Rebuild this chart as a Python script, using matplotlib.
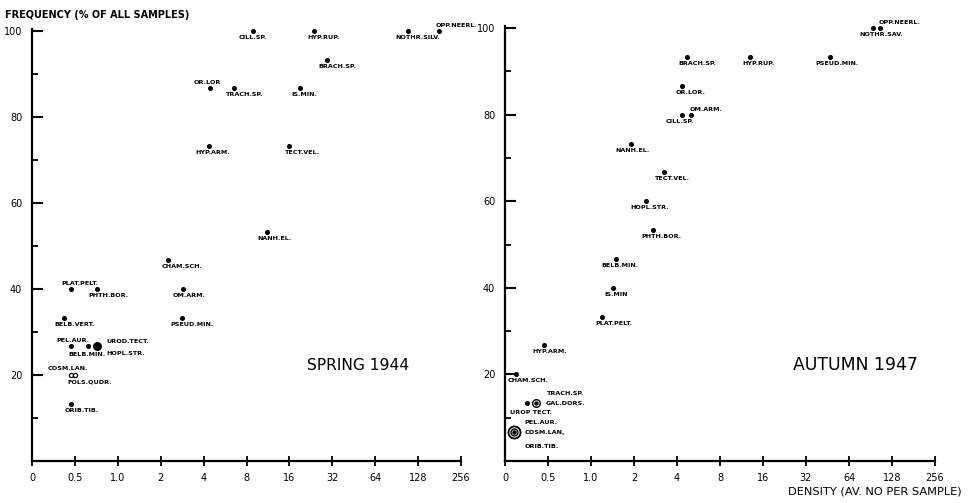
import numpy as np
import matplotlib.pyplot as plt
from matplotlib.ticker import NullLocator

# density axis: 0, 0.5, 1.0 then doubling steps
tick_vals = [0, 0.5, 1, 2, 4, 8, 16, 32, 64, 128, 256]
tick_labels = ["0", "0.5", "1.0", "2", "4", "8", "16", "32", "64", "128", "256"]

# Spring 1944
spring_species = ["CILL.SP.", "HYP.RUP.", "NOTHR.SILV.", "OPP.NEERL.", "BRACH.SP.",
                  "OR.LOR", "TRACH.SP.", "IS.MIN.", "HYP.ARM.", "TECT.VEL.",
                  "NANH.EL.", "CHAM.SCH.", "PLAT.PELT.", "PHTH.BOR.", "OM.ARM.",
                  "BELB.VERT.", "PSEUD.MIN.", "PEL.AUR.", "BELB.MIN.", "UROD.TECT.",
                  "HOPL.STR.", "COSM.LAN.", "FOLS.QUDR.", "ORIB.TIB."]
spring_density = [8.9, 23.9, 109, 180, 29.2,
                  4.47, 6.5, 18.9, 4.4, 16,
                  11.2, 2.24, 0.46, 0.71, 2.85,
                  0.37, 2.8, 0.46, 0.62, 0.72,
                  0.72, 0.45, 0.5, 0.46]
spring_freq = [100, 100, 100, 100, 93.3,
               86.7, 86.7, 86.7, 73.3, 73.3,
               53.3, 46.7, 40, 40, 40,
               33.3, 33.3, 26.7, 26.7, 26.7,
               26.7, 20, 20, 13.3]

# Autumn 1947
autumn_species = ["OPP.NEERL.", "NOTHR.SAV.", "BRACH.SP.", "HYP.RUP.", "PSEUD.MIN.",
                  "OR.LOR.", "OM.ARM.", "CILL.SP.", "NANH.EL.", "TECT.VEL.",
                  "HOPL.STR.", "PHTH.BOR.", "BELB.MIN.", "IS.MIN", "PLAT.PELT.",
                  "HYP.ARM.", "CHAM.SCH.", "TRACH.SP.", "GAL.DORS.", "UROP TECT.",
                  "PEL.AUR.", "COSM.LAN,", "ORIB.TIB."]
autumn_density = [105, 94, 4.7, 13, 46.8,
                  4.35, 5.0, 4.35, 1.9, 3.25,
                  2.43, 2.7, 1.5, 1.42, 1.2,
                  0.455, 0.125, 0.25, 0.36, 0.10,
                  0.10, 0.10, 0.10]
autumn_freq = [100, 100, 93.3, 93.3, 93.3,
               86.7, 80, 80, 73.3, 66.7,
               60, 53.3, 46.7, 40, 33.3,
               26.7, 20, 13.3, 13.3, 6.7,
               6.7, 6.7, 6.7]

# label placement (pixel offsets, ha, va) and marker kinds
B = (0, -4, "center", "top")
spring_lab = [B, (9, -4, "center", "top"), (10, -4, "center", "top"), (-4, 3, "left", "bottom"),
              (11, -4, "center", "top"), (-3, 3, "center", "bottom"), (11, -4, "center", "top"),
              (5, -4, "center", "top"), (3, -4, "center", "top"), (13, -4, "center", "top"),
              (7, -4, "center", "top"), (14, -4, "center", "top"), (8, 3, "center", "bottom"),
              (12, -4, "center", "top"), (6, -4, "center", "top"), (11, -4, "center", "top"),
              (10, -4, "center", "top"), (1, 3, "center", "bottom"), (-1, -6, "center", "top"),
              (9, 5, "left", "center"), (9, -7, "left", "center"), (-3, 4, "center", "bottom"),
              (15, -4, "center", "top"), (10, -4, "center", "top")]
spring_kind = ["dot"] * 19 + ["big", "big", "open", "open", "dot"]

autumn_lab = [(20, 3, "center", "bottom"), (8, -4, "center", "top"), (10, -4, "center", "top"),
              (8, -4, "center", "top"), (7, -4, "center", "top"), (8, -4, "center", "top"),
              (15, 3, "center", "bottom"), (-2, -4, "center", "top"), (2, -4, "center", "top"),
              (8, -4, "center", "top"), (4, -4, "center", "top"), (9, -4, "center", "top"),
              (4, -4, "center", "top"), (3, -4, "center", "top"), (12, -4, "center", "top"),
              (6, -4, "center", "top"), (12, -4, "center", "top"), (20, 10, "left", "center"),
              (10, 0, "left", "center"), (-4, 19, "left", "center"), (11, 9, "left", "center"),
              (11, -1, "left", "center"), (11, -15, "left", "center")]
autumn_kind = ["dot"] * 18 + ["ring", "ring2", "ring2", "ring2", "ring2"]


def fwd(v):
    v = np.asarray(v, dtype=float)
    return np.where(v < 0.5, 2 * v, np.log2(np.maximum(v, 0.5)) + 2)


def inv(p):
    p = np.asarray(p, dtype=float)
    return np.where(p < 1, p / 2, 2 ** (p - 2))


def draw_marker(ax, x, y, kind):
    kw = dict(clip_on=False, zorder=3)
    if kind == "dot":
        ax.plot(x, y, "o", color="black", ms=2.6, **kw)
    elif kind == "big":
        ax.plot(x, y, "o", color="black", ms=5.2, **kw)
    elif kind == "open":
        ax.plot(x, y, "o", mfc="white", mec="black", mew=0.9, ms=3.0, **kw)
    elif kind == "ring":
        ax.plot(x, y, "o", mfc="white", mec="black", mew=1.0, ms=5.5, **kw)
        ax.plot(x, y, "o", color="black", ms=2.2, **kw)
    elif kind == "ring2":
        ax.plot(x, y, "o", mfc="white", mec="black", mew=1.1, ms=8.5, **kw)
        ax.plot(x, y, "o", mfc="white", mec="black", mew=1.0, ms=5.0, **kw)
        ax.plot(x, y, "o", color="black", ms=2.2, **kw)


def setup(ax):
    ax.set_xscale("function", functions=(fwd, inv))
    ax.set_xlim(0, 256)
    ax.set_ylim(0, 100.5)
    ax.set_xticks(tick_vals)
    ax.set_xticklabels(tick_labels)
    ax.xaxis.set_minor_locator(NullLocator())
    ax.set_yticks([20, 40, 60, 80, 100])
    ax.set_yticks([10, 30, 50, 70, 90], minor=True)
    for s in ["top", "right"]:
        ax.spines[s].set_visible(False)
    for s in ["left", "bottom"]:
        ax.spines[s].set_linewidth(1.6)
    ax.tick_params(axis="x", direction="inout", length=7, width=1.3, pad=5, labelsize=7)
    ax.tick_params(axis="y", which="major", direction="in", length=8, width=1.5, pad=7, labelsize=7)
    ax.tick_params(axis="y", which="minor", direction="in", length=4, width=1.3)
    ax.set_facecolor("none")


fig = plt.figure(figsize=(9.73, 5.03), dpi=100)
ax1 = fig.add_axes([32 / 973, 42 / 503, 429 / 973, 430 / 503 * 1.005])
ax2 = fig.add_axes([505 / 973, 42 / 503, 430 / 973, 433 / 503 * 1.005])

panels = [(ax1, spring_species, spring_density, spring_freq, spring_lab, spring_kind),
          (ax2, autumn_species, autumn_density, autumn_freq, autumn_lab, autumn_kind)]

for ax, names, dens, freq, labs, kinds in panels:
    setup(ax)
    for name, x, y, lab, kind in zip(names, dens, freq, labs, kinds):
        draw_marker(ax, x, y, kind)
        dx, dy, ha, va = lab
        ax.annotate(name, (x, y), xytext=(dx, dy), textcoords="offset pixels",
                    ha=ha, va=va, fontsize=4.6, fontweight="bold", annotation_clip=False)

ax1.text(0.76, 0.22, "SPRING 1944", transform=ax1.transAxes, fontsize=11.2,
         ha="center", va="center")
ax2.text(0.814, 0.22, "AUTUMN 1947", transform=ax2.transAxes, fontsize=12.4,
         ha="center", va="center")

fig.text(5 / 973, 1 - 15 / 503, "FREQUENCY (% OF ALL SAMPLES)", fontsize=7,
         fontweight="bold", ha="left", va="center")
fig.text(962 / 973, 1 - 492 / 503, "DENSITY (AV. NO PER SAMPLE)", fontsize=8.2,
         ha="right", va="center")

fig.savefig("out.png", dpi=100)
